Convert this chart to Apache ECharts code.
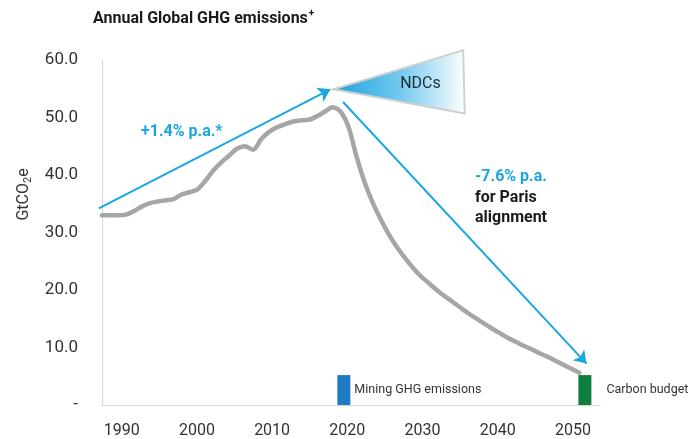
<!DOCTYPE html>
<html>
<head>
<meta charset="utf-8">
<script src="https://cdn.jsdelivr.net/npm/echarts@6/dist/echarts.min.js"></script>
<style>
  html, body { margin: 0; padding: 0; background: #fff; }
  #chart { width: 689px; height: 439px; }
</style>
</head>
<body>
<div id="chart"></div>
<script>
// annual global GHG emissions, GtCO2e, one value per year from 1990 to 2050
const startYear = 1990;
const emissions = [
  33.0, 33.0, 33.0, 33.1, 33.7, 34.5, 35.1, 35.4, 35.6, 35.8,
  36.6, 37.0, 37.5, 39.0, 40.8, 42.2, 43.4, 44.6, 45.0, 44.4,
  46.2, 47.5, 48.3, 48.8, 49.3, 49.5, 49.6, 50.2, 51.0, 51.8,
  51.0, 48.3, 43.2, 38.8, 35.3, 32.4, 29.8, 27.6, 25.7, 24.0,
  22.5, 21.3, 20.1, 19.0, 18.0, 17.0, 16.0, 15.1, 14.2, 13.3,
  12.5, 11.7, 11.0, 10.3, 9.7, 9.0, 8.4, 7.7, 7.0, 6.3, 5.6
];
const yearLabels = [1990, 2000, 2010, 2020, 2030, 2040, 2050];

// annotation shapes, in data units (year, GtCO2e)
const trendArrow = [[1989.6, 34.2], [2018.7, 54.9]];
const parisArrow = [[2020.3, 52.7], [2050.9, 7.2]];
const ndcTriangle = [[2019.1, 54.9], [2035.4, 61.7], [2035.6, 50.7]];

// the two small marker bars
const markerNames = ['Mining GHG emissions', 'Carbon budget'];
const markerYears = [2020.4, 2050.7];
const markerValues = [5.2, 5.2];

const FONT = 'Roboto';
const BLUE = '#19a6e1';
const markerColors = ['#1f7ac3', '#0f7d3c'];
const markerLabelGap = [4, 15];

const chart = echarts.init(document.getElementById('chart'));

const linePoints = emissions.map((v, i) => [startYear + i, v]);

const markerData = markerNames.map((name, i) => ({
  name: name,
  value: [markerYears[i], markerValues[i]],
  itemStyle: { color: markerColors[i] },
  label: { distance: markerLabelGap[i] }
}));

const option = {
  animation: false,
  backgroundColor: '#fff',
  title: {
    text: '{t|Annual Global GHG emissions}{p|+}',
    left: 88,
    top: 3,
    textStyle: {
      rich: {
        t: { fontFamily: FONT, fontSize: 16, fontWeight: 'bold', color: '#1a1a1a', lineHeight: 22 },
        p: { fontFamily: FONT, fontSize: 10, color: '#1a1a1a', verticalAlign: 'top', lineHeight: 22, padding: [0, 0, 8, 1] }
      }
    }
  },
  grid: { left: 102, right: 89, top: 60, bottom: 34 },
  xAxis: [
    {
      type: 'value',
      min: 1990,
      max: 2052.6,
      axisLine: { show: true, lineStyle: { color: '#d6d6d6', width: 1 } },
      axisTick: { show: false },
      axisLabel: { show: false },
      splitLine: { show: false }
    },
    {
      // label-only axis: the printed year labels sit on a slightly tighter scale
      type: 'value',
      position: 'bottom',
      min: 1987.38,
      max: 2053.6,
      axisLine: { show: false },
      axisTick: { show: false },
      splitLine: { show: false },
      axisLabel: {
        customValues: yearLabels,
        formatter: v => String(v),
        fontFamily: FONT,
        fontSize: 16,
        color: '#333',
        margin: 18
      }
    }
  ],
  yAxis: {
    type: 'value',
    min: 0,
    max: 60,
    interval: 10,
    name: '{a|GtCO}{s|2}{a|e}',
    nameLocation: 'middle',
    nameRotate: 90,
    nameGap: 62,
    nameTextStyle: {
      padding: [0, 0, 0, 76],
      rich: {
        a: { fontFamily: FONT, fontSize: 16, color: '#333', lineHeight: 20 },
        s: { fontFamily: FONT, fontSize: 11, color: '#333', lineHeight: 20, verticalAlign: 'bottom', padding: [6, 0, 0, 0] }
      }
    },
    axisLine: { show: true, lineStyle: { color: '#d6d6d6', width: 1 } },
    axisTick: { show: false },
    splitLine: { show: false },
    axisLabel: {
      fontFamily: FONT,
      fontSize: 17,
      color: '#333',
      margin: 24,
      formatter: v => (v === 0 ? '-' : v.toFixed(1))
    }
  },
  series: [
    {
      type: 'line',
      data: linePoints,
      showSymbol: false,
      smooth: 0.3,
      lineStyle: { color: '#a6a6a6', width: 4.5, join: 'round', cap: 'round' },
      z: 2
    },
    {
      type: 'lines',
      coordinateSystem: 'cartesian2d',
      clip: false,
      symbol: ['none', 'arrow'],
      symbolSize: 12,
      lineStyle: { color: BLUE, width: 2, opacity: 1 },
      data: [{ coords: trendArrow }, { coords: parisArrow }],
      z: 4
    },
    {
      type: 'custom',
      clip: false,
      data: ndcTriangle,
      renderItem: (params, api) => {
        if (params.dataIndex !== 0) return null;
        const pts = ndcTriangle.map(p => api.coord(p));
        const cx = (pts[0][0] + pts[1][0] + pts[2][0]) / 3;
        const cy = (pts[0][1] + pts[1][1] + pts[2][1]) / 3;
        return {
          type: 'group',
          children: [
            {
              type: 'polygon',
              shape: { points: pts },
              style: {
                fill: new echarts.graphic.LinearGradient(0, 0, 1, 0, [
                  { offset: 0, color: '#1ba3df' },
                  { offset: 0.5, color: '#72c8ee' },
                  { offset: 1, color: '#ffffff' }
                ]),
                stroke: '#d0d0d0',
                lineWidth: 2
              }
            },
            {
              type: 'text',
              x: cx,
              y: cy,
              style: {
                text: 'NDCs',
                fill: '#1e2a36',
                font: '16px ' + FONT,
                align: 'center',
                verticalAlign: 'middle'
              }
            }
          ]
        };
      },
      z: 5
    },
    {
      type: 'bar',
      xAxisIndex: 0,
      barWidth: 13,
      data: markerData,
      label: {
        show: true,
        position: 'right',
        formatter: p => p.name,
        fontFamily: FONT,
        fontSize: 12.5,
        color: '#333',
        overflow: 'none'
      },
      z: 3
    }
  ],
  graphic: [
    {
      type: 'text',
      x: 141,
      y: 132,
      style: { text: '+1.4% p.a.*', fill: BLUE, font: 'bold 16px ' + FONT, verticalAlign: 'middle' }
    },
    {
      type: 'text',
      x: 475,
      y: 177,
      style: { text: '-7.6% p.a.', fill: BLUE, font: 'bold 16px ' + FONT, verticalAlign: 'middle' }
    },
    {
      type: 'text',
      x: 475,
      y: 197.5,
      style: { text: 'for Paris', fill: '#1a1a1a', font: 'bold 16px ' + FONT, verticalAlign: 'middle' }
    },
    {
      type: 'text',
      x: 475,
      y: 217.5,
      style: { text: 'alignment', fill: '#1a1a1a', font: 'bold 16px ' + FONT, verticalAlign: 'middle' }
    }
  ]
};

chart.setOption(option);
</script>
</body>
</html>
